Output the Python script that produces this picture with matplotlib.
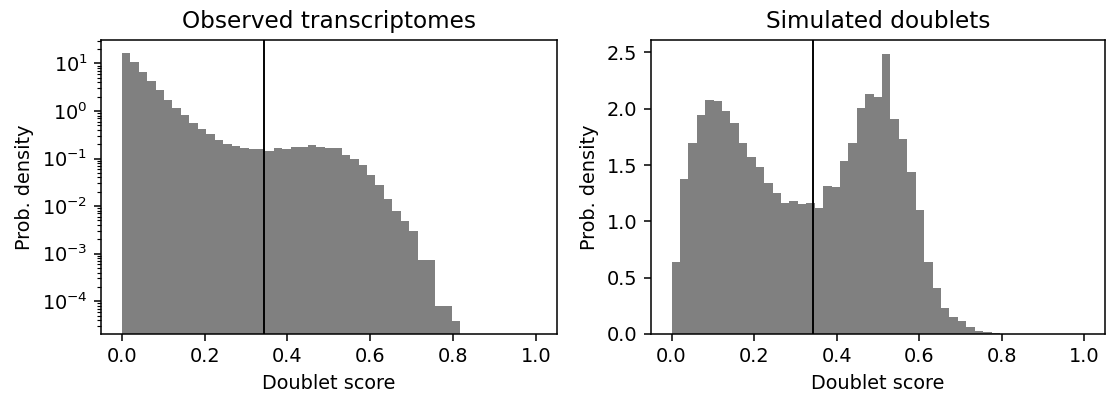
import numpy as np
import matplotlib
matplotlib.use("Agg")
import matplotlib.pyplot as plt

# histogram bins used for both panels (np.linspace(0, 1, 50) -> 49 bins)
bin_edges = np.linspace(0, 1, 50)

# observed transcriptomes, density per bin
obs_density = [16.3, 10.5, 6.45, 4.23, 2.82, 1.73, 1.15, 0.807, 0.566, 0.409,
               0.325, 0.251, 0.204, 0.181, 0.170, 0.160, 0.157, 0.145, 0.164, 0.158,
               0.173, 0.173, 0.190, 0.179, 0.167, 0.167, 0.117, 0.098, 0.073, 0.045,
               0.0277, 0.0140, 0.0079, 0.0049, 0.0030, 7.2e-4, 7.2e-4, 7.8e-5, 7.8e-5, 3.9e-5,
               0, 0, 0, 0, 0, 0, 0, 0, 0]

# simulated doublets, density per bin
sim_density = [0.638, 1.38, 1.70, 1.94, 2.08, 2.07, 1.98, 1.87, 1.70, 1.57,
               1.48, 1.34, 1.25, 1.165, 1.177, 1.156, 1.165, 1.115, 1.318, 1.303,
               1.539, 1.692, 2.006, 2.133, 2.107, 2.486, 1.906, 1.73, 1.441, 1.103,
               0.638, 0.412, 0.227, 0.153, 0.112, 0.058, 0.030, 0.014, 0.005, 0,
               0, 0, 0, 0, 0, 0, 0, 0, 0]

threshold = 0.343

titles = ["Observed transcriptomes", "Simulated doublets"]
scales = ["log", "linear"]

# 8 x 3 inch figure at high dpi -> 1107 x 397 px
dpi = 138.4
fig = plt.figure(figsize=(1107 / dpi, 397 / dpi), dpi=dpi)
ax1 = fig.add_axes([0.0912, 0.1587, 0.4119, 0.7406])
ax2 = fig.add_axes([0.588, 0.1587, 0.410, 0.7406])

centers = (bin_edges[:-1] + bin_edges[1:]) / 2

for ax, dens, title, scale in zip([ax1, ax2], [obs_density, sim_density], titles, scales):
    ax.hist(centers, bin_edges, weights=dens, color='gray', linewidth=0)
    ax.set_yscale(scale)
    yl = ax.get_ylim()
    ax.set_ylim(yl)
    ax.plot(threshold * np.ones(2), yl, c='black', linewidth=1)
    ax.set_title(title)
    ax.set_xlabel('Doublet score')
    ax.set_ylabel('Prob. density')

fig.savefig("out.png", dpi=dpi)
